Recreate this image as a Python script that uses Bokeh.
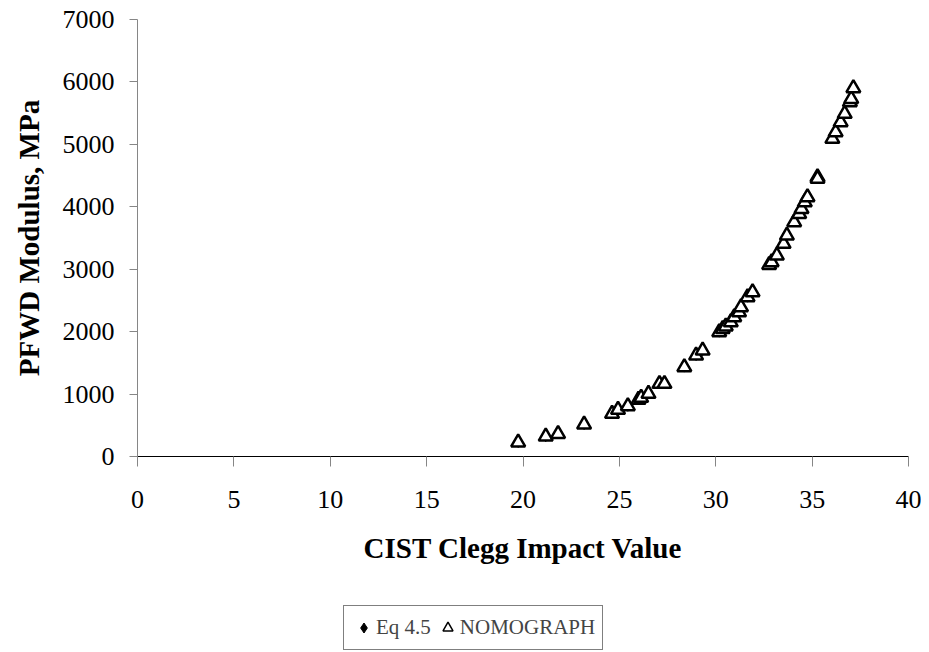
from bokeh.plotting import figure
from bokeh.layouts import column
from bokeh.models import Legend, LegendItem, SingleIntervalTicker
from bokeh.embed import file_html
from bokeh.resources import INLINE

# CIST Clegg impact value vs PFWD modulus (MPa)
cist = [19.75, 21.18, 21.82, 23.17, 24.62, 24.93, 25.44, 25.99, 26.13, 26.51,
        27.08, 27.34, 28.37, 28.98, 29.32, 30.18, 30.36, 30.52, 30.78, 30.96,
        31.21, 31.31, 31.65, 31.91, 32.77, 32.90, 33.17, 33.52, 33.69, 34.07,
        34.33, 34.45, 34.62, 34.76, 35.28, 35.28, 36.05, 36.22, 36.48, 36.69,
        36.96, 37.03, 37.14]
pfwd_nomo = [225, 320, 363, 513, 684, 748, 806, 908, 940, 1004,
             1164, 1164, 1431, 1618, 1698, 1991, 2045, 2085, 2151, 2232,
             2311, 2392, 2552, 2632, 3070, 3113, 3220, 3407, 3540, 3754,
             3887, 3967, 4073, 4154, 4474, 4450, 5089, 5195, 5355, 5489,
             5676, 5729, 5900]
pfwd_eq = [232, 326, 370, 520, 690, 752, 812, 915, 946, 1010,
           1170, 1172, 1440, 1625, 1705, 2000, 2052, 2092, 2160, 2240,
           2320, 2400, 2560, 2640, 3080, 3122, 3230, 3415, 3550, 3765,
           3895, 3975, 4082, 4165, 4485, 4460, 5100, 5205, 5365, 5500,
           5688, 5740, 5912]

FONT = "Liberation Serif"

p = figure(width=921, height=590, x_range=(0, 40), y_range=(0, 7000),
           output_backend="svg", toolbar_location=None,
           min_border_left=137, min_border_top=19, min_border_right=13,
           min_border_bottom=134)
p.outline_line_color = None
p.grid.grid_line_color = None

r_eq = p.scatter(cist, pfwd_eq, marker="diamond", size=11,
                 fill_color="black", line_color="black")
r_nomo = p.scatter(cist, pfwd_nomo, marker="triangle", size=14,
                   fill_color="white", line_color="black", line_width=2.5)

p.xaxis.ticker = SingleIntervalTicker(interval=5)
p.yaxis.ticker = SingleIntervalTicker(interval=1000)
p.xaxis.minor_tick_line_color = None
p.yaxis.minor_tick_line_color = None
for ax in (p.xaxis, p.yaxis):
    ax.major_tick_in = 0
    ax.major_label_text_font = FONT
    ax.major_label_text_font_size = "26px"
    ax.major_label_text_color = "black"
    ax.axis_label_text_font = FONT
    ax.axis_label_text_font_size = "29px"
    ax.axis_label_text_font_style = "bold"
    ax.axis_label_text_color = "black"
    ax.major_tick_line_color = "#868686"
p.xaxis.major_tick_out = 10
p.yaxis.major_tick_out = 8
p.xaxis.axis_line_color = "black"
p.yaxis.axis_line_color = "#868686"
p.xaxis.major_label_standoff = 24
p.yaxis.major_label_standoff = 15
p.xaxis.axis_label = "CIST Clegg Impact Value"
p.yaxis.axis_label = "PFWD Modulus, MPa"
p.xaxis.axis_label_standoff = 21
p.yaxis.axis_label_standoff = 15

# legend sits in its own strip under the chart (frame is aligned with p's)
lg = figure(width=921, height=62, x_range=(0, 1), y_range=(0, 1),
            output_backend="svg", toolbar_location=None,
            x_axis_location=None, y_axis_location=None, min_border=0)
lg.grid.grid_line_color = None
lg.outline_line_color = None
# one sample each, outside this strip's range: only the legend shows them
g_eq = lg.scatter(cist[:1], pfwd_eq[:1], marker="diamond", size=11,
                  fill_color="black", line_color="black")
g_nomo = lg.scatter(cist[:1], pfwd_nomo[:1], marker="triangle", size=11,
                    fill_color="white", line_color="black", line_width=1.5)

legend = Legend(items=[LegendItem(label="Eq 4.5", renderers=[g_eq]),
                       LegendItem(label="NOMOGRAPH", renderers=[g_nomo])],
                orientation="horizontal", location=(206, 2))
legend.label_text_font = FONT
legend.label_text_font_size = "21px"
legend.border_line_color = "black"
legend.border_line_width = 1
legend.background_fill_alpha = 1
legend.glyph_width = 25
legend.glyph_height = 29
legend.label_standoff = 0
legend.spacing = 4
legend.padding = 7
legend.margin = 0
lg.add_layout(legend)

open("out.html", "w").write(file_html(column(p, lg, spacing=0), INLINE))
